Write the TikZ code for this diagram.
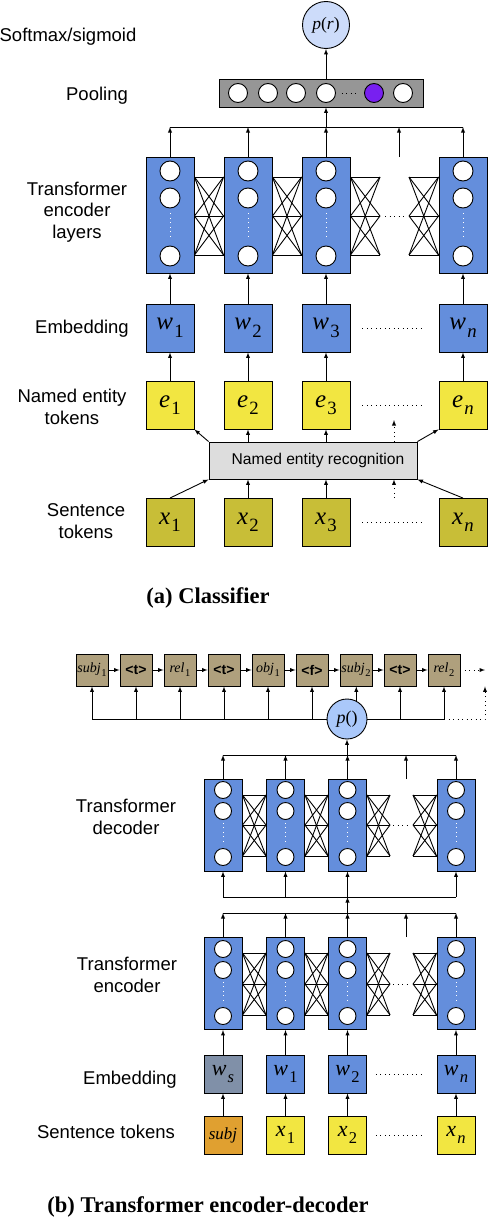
\documentclass[tikz,border=0pt]{standalone}
\usepackage{fontspec}
\setmainfont{Liberation Sans}
\newfontfamily\capfont{Liberation Serif}
\newcommand\tok[2]{\textit{#1}\kern0.05em\raisebox{-0.3em}{\scalebox{0.75}{#2}}}
\newcommand\ctag[1]{{\rmfamily\bfseries <#1>}}
\definecolor{layerblue}{RGB}{100,142,220}
\definecolor{tokyellow}{RGB}{242,230,65}
\definecolor{tokolive}{RGB}{200,190,55}
\definecolor{poolgray}{RGB}{150,150,150}
\definecolor{nergray}{RGB}{221,221,221}
\definecolor{hotpurple}{RGB}{120,32,240}
\definecolor{probblue}{RGB}{205,220,250}
\definecolor{pblue}{RGB}{170,200,250}
\definecolor{chaintan}{RGB}{175,160,125}
\definecolor{wsgray}{RGB}{128,144,168}
\definecolor{subjorange}{RGB}{224,160,48}
\tikzset{
  tbox/.style={draw,inner sep=0pt},
  tlayer/.style={tbox,fill=layerblue},
  tunit/.style={draw,circle,fill=white,inner sep=0pt},
  dotline/.style={dash pattern=on 1pt off 3.5pt},
  lbl/.style={font=\fontsize{18.5}{21.5}\selectfont,align=center},
  capt/.style={font=\capfont\bfseries\fontsize{22.5}{27}\selectfont},
  bigtok/.style={font=\capfont\fontsize{25}{25}\selectfont},
  midtok/.style={font=\capfont\fontsize{22}{22}\selectfont},
}
\begin{document}
\begin{tikzpicture}[>=latex,x=1pt,y=-1pt,line width=0.9pt]
\useasboundingbox (0,0) rectangle (488,1218);
\node[lbl] (lsoft) at (68,37) {Softmax/sigmoid};
\node[lbl] (lpool) at (97,96) {Pooling};
\node[lbl] (lenc) at (77,212) {Transformer\\encoder\\layers};
\node[lbl] (lemb) at (82,329) {Embedding};
\node[lbl] (lner) at (72,407) {Named entity\\tokens};
\node[lbl] (lsent) at (86,521) {Sentence\\tokens};
\node[capt] (capa) at (208,598) {(a) Classifier};
\foreach \x [count=\i] in {170,248,326,463}{
  \node[tlayer,minimum width=48pt,minimum height=116pt] (ea\i) at (\x,215) {};
  \foreach \y [count=\k] in {171,198,256}
    \node[tunit,minimum size=20pt] (ea\i-\k) at (\x,\y) {};
  \draw[white,dotline,shorten <=5pt,shorten >=8pt] (ea\i-2) -- (ea\i-3);
}
\coordinate (ga1) at (380,216);
\coordinate (ga2) at (409,216);
\foreach \p in {177,216,255}
  \foreach \q in {177,216,255}{
    \draw (ea1.east |- 0,\p) -- (ea2.west |- 0,\q);
    \draw (ea2.east |- 0,\p) -- (ea3.west |- 0,\q);
    \draw (ea3.east |- 0,\p) -- (ga1 |- 0,\q);
    \draw (ga2 |- 0,\p) -- (ea4.west |- 0,\q);
  }
\draw[dotline,shorten <=5pt,shorten >=4pt] (ga1) -- (ga2);
\draw (ea1.north |- 0,127) -- (ea4.north |- 0,127);
\foreach \i in {1,...,4} \draw[->] (ea\i.north) -- (ea\i.north |- 0,127);
\coordinate (la) at (399,157);
\draw[->] (la) -- (la |- 0,127);
\node[tbox,fill=poolgray,minimum width=204pt,minimum height=28pt] (pool) at (321,93) {};
\foreach \x/\col [count=\k] in {238/white,268/white,296/white,326/white,374/hotpurple,403/white}
  \node[tunit,fill=\col,minimum size=19pt] (pu\k) at (\x,93) {};
\draw[dotline,shorten <=6pt,shorten >=6pt] (pu4) -- (pu5);
\draw[->] (ea3.north |- 0,127) -- (ea3.north |- pool.south);
\node[tbox,circle,fill=probblue,minimum size=47pt,font=\capfont\fontsize{17.5}{17.5}\selectfont] (pr) at (326,25) {\textit{p}(\textit{r})};
\draw[->] (pr.south |- pool.north) -- (pr.south);
\foreach \x/\s [count=\i] in {170/1,248/2,326/3,463/\textit{n}}{
  \node[tlayer,minimum size=48pt,bigtok] (wa\i) at (\x,328) {\tok{w}{\s}};
  \node[tbox,fill=tokyellow,minimum size=48pt,bigtok] (ne\i) at (\x,405) {\tok{e}{\s}};
  \node[tbox,fill=tokolive,minimum size=48pt,bigtok] (xa\i) at (\x,522.5) {\tok{x}{\s}};
  \draw[->] (wa\i) -- (ea\i);
  \draw[->] (ne\i) -- (wa\i);
}
\foreach \row in {wa,ne,xa}
  \draw[dotline,shorten <=12pt,shorten >=14pt] (\row3) -- (\row4);
\node[tbox,fill=nergray,minimum width=208pt,minimum height=37pt,font=\fontsize{15.6}{18}\selectfont] (ner) at (313,460.5) {\hspace*{10pt}Named entity recognition};
\draw[->] (ner.north west) -- (ne1.south east);
\draw[->] (ner.north east) -- (ne4.south west);
\draw[->] (xa1.north) -- (ner.south west);
\draw[->] (xa4.north) -- (ner.south east);
\foreach \i in {2,3}{
  \draw[->] (ne\i.south |- ner.north) -- (ne\i.south);
  \draw[->] (xa\i.north) -- (xa\i.north |- ner.south);
}
\coordinate (nd) at (394,0);
\draw[->,dotline] (nd |- ner.north) -- (nd |- 0,420);
\draw[->,dotline] (nd |- xa1.north) -- (nd |- ner.south);
\node[lbl] (ldec) at (126,817) {Transformer\\decoder};
\node[lbl] (lenc2) at (127,975) {Transformer\\encoder};
\node[lbl] (lemb2) at (130,1080) {Embedding};
\node[lbl] (lsent2) at (106,1132) {Sentence tokens};
\node[capt] (capb) at (208,1207) {(b) Transformer encoder-decoder};
\foreach \lab [count=\i] in {\tok{subj}{1},\ctag{t},\tok{rel}{1},\ctag{t},\tok{obj}{1},\ctag{f},\tok{subj}{2},\ctag{t},\tok{rel}{2}}
  \node[tbox,fill=chaintan,minimum size=32pt,font=\capfont\fontsize{14}{14}\selectfont] (c\i) at ({92+44*(\i-1)},670) {\lab};
\foreach \i [count=\nx from 2] in {1,...,8} \draw[->] (c\i.east) -- (c\nx.west);
\coordinate (chainend) at (485,670);
\draw[->,dotline] (c9.east) -- (chainend);
\node[tbox,circle,fill=pblue,minimum size=40pt,font=\capfont\fontsize{18}{18}\selectfont] (pout) at (347,719) {\textit{p}()};
\draw[->] (pout.west) -| (c1.south);
\draw[->] (pout.east) -| (c9.south);
\foreach \i in {2,...,6} \draw[->] (c\i.south |- pout.west) -- (c\i.south);
\draw[->] (c8.south |- pout.east) -- (c8.south);
\draw[->] (pout.63) -- (pout.63 |- c7.south);
\draw[->,dotline] (c9.south |- pout.east) -| (chainend |- c9.south);
\foreach \x [count=\i] in {223,285.5,347.5,456}{
  \node[tlayer,minimum width=38pt,minimum height=92pt] (d\i) at (\x,825) {};
  \node[tlayer,minimum width=38pt,minimum height=92pt] (n\i) at (\x,983.5) {};
  \foreach \y [count=\k] in {790,811,857}
    \node[tunit,minimum size=17pt] (d\i-\k) at (\x,\y) {};
  \foreach \y [count=\k] in {949,970,1016}
    \node[tunit,minimum size=17pt] (n\i-\k) at (\x,\y) {};
  \draw[white,dotline,shorten <=3pt,shorten >=3pt] (d\i-2) -- (d\i-3);
  \draw[white,dotline,shorten <=3pt,shorten >=3pt] (n\i-2) -- (n\i-3);
}
\coordinate (gb1) at (390,0);
\coordinate (gb2) at (413,0);
\foreach \s/\ya/\yb/\yc in {d/795/825/856,n/953/984/1015}{
  \foreach \p in {\ya,\yb,\yc}
    \foreach \q in {\ya,\yb,\yc}{
      \draw (\s1.east |- 0,\p) -- (\s2.west |- 0,\q);
      \draw (\s2.east |- 0,\p) -- (\s3.west |- 0,\q);
      \draw (\s3.east |- 0,\p) -- (gb1 |- 0,\q);
      \draw (gb2 |- 0,\p) -- (\s4.west |- 0,\q);
    }
  \draw[dotline,shorten <=3pt,shorten >=2pt] (gb1 |- 0,\yb) -- (gb2 |- 0,\yb);
}
\draw (d1.north |- 0,755) -- (d4.north |- 0,755);
\draw (d1.south |- 0,897) -- (d4.south |- 0,897);
\draw (n1.north |- 0,913) -- (n4.north |- 0,913);
\foreach \i in {1,...,4}{
  \draw[->] (d\i.north) -- (d\i.north |- 0,755);
  \draw[->] (d\i.south |- 0,897) -- (d\i.south);
  \draw[->] (n\i.north) -- (n\i.north |- 0,913);
}
\coordinate (dl) at (406,779);
\coordinate (nl) at (406,937);
\draw[->] (dl) -- (dl |- 0,755);
\draw[->] (nl) -- (nl |- 0,913);
\draw[->] (pout.south |- 0,755) -- (pout.south);
\draw[->] (n3.north |- 0,913) -- (d3.south |- 0,897);
\foreach \x/\col/\s [count=\i] in {223/wsgray/\textit{s},285.5/layerblue/1,347.5/layerblue/2,456/layerblue/\textit{n}}{
  \node[tbox,fill=\col,minimum size=38pt,midtok] (wb\i) at (\x,1074) {\tok{w}{\s}};
  \draw[->] (wb\i) -- (n\i);
}
\node[tbox,fill=subjorange,minimum size=38pt,font=\capfont\fontsize{17}{17}\selectfont] (xb1) at (223,1135) {\textit{subj}};
\foreach \x/\s [count=\i from 2] in {285.5/1,347.5/2,456/\textit{n}}
  \node[tbox,fill=tokyellow,minimum size=38pt,midtok] (xb\i) at (\x,1135) {\tok{x}{\s}};
\foreach \i in {1,...,4} \draw[->] (xb\i) -- (wb\i);
\draw[dotline,shorten <=9pt,shorten >=15pt] (wb3) -- (wb4);
\draw[dotline,shorten <=9pt,shorten >=15pt] (xb3) -- (xb4);
\end{tikzpicture}
\end{document}
